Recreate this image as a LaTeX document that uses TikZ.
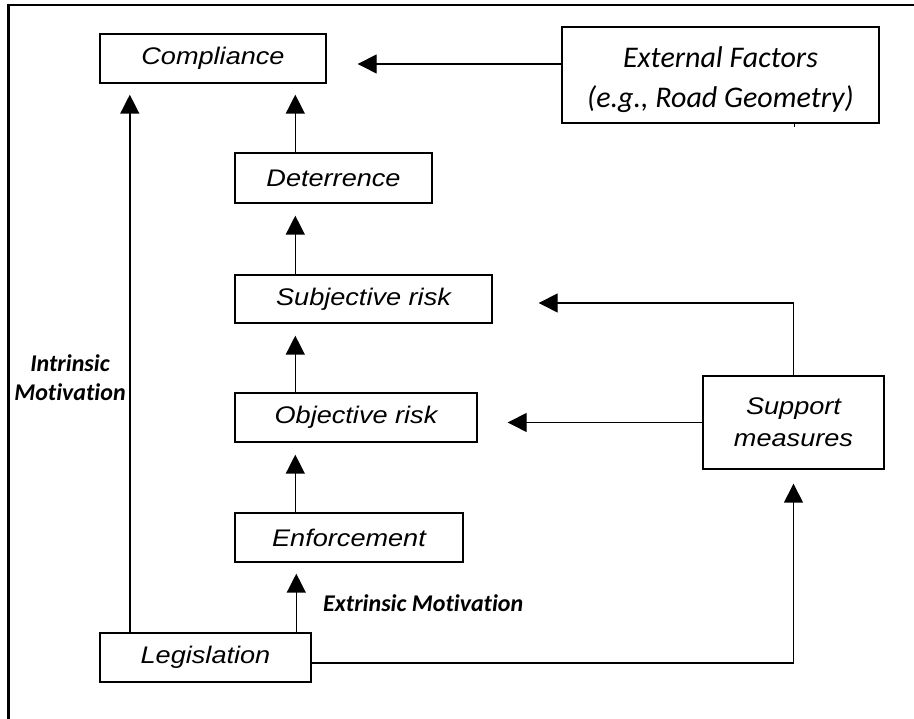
\documentclass[tikz,border=0pt]{standalone}
\usepackage{fontspec}
\usetikzlibrary{arrows.meta}
\newfontfamily\arialf{Liberation Sans}[FakeStretch=1.13]
\newfontfamily\calf{Carlito}[Ligatures=NoCommon]
\tikzset{
  box/.style={draw, line width=1.4pt, inner sep=0pt, align=center,
    font=\arialf\itshape\fontsize{24}{32}\selectfont},
  arr/.style={line width=1.4pt, -{Triangle[length=19pt,width=19pt]}},
  lbl/.style={align=center, inner sep=0pt, font=\calf\bfseries\itshape\fontsize{24}{29}\selectfont},
  frameline/.style={line width=2.5pt}
}
\begin{document}
\begin{tikzpicture}[x=1pt,y=1pt]
\useasboundingbox (0,0) rectangle (914,719);
\draw[frameline] (914,714) -- (8.5,714) -- (8.5,0);

\node[box, minimum width=226pt, minimum height=49pt] (comp) at (213,660.5) {Compliance};
\node[box, minimum width=317pt, minimum height=96pt] (ext) at (720.5,644) {};
\node[align=center, inner sep=0pt, font=\calf\itshape\fontsize{30}{40}\selectfont]
  (exttext) at ([yshift=-5pt]ext.center) {External Factors\\(e.g., Road Geometry)};
\node[box, minimum width=197pt, minimum height=50pt] (det) at (333.5,541) {Deterrence};
\node[box, minimum width=257pt, minimum height=48pt] (subj) at (363.5,420) {Subjective risk};
\node[box, minimum width=242pt, minimum height=49pt] (obj) at (356,301.5) {Objective risk};
\node[box, minimum width=228pt, minimum height=49pt] (enf) at (349,181.5) {Enforcement};
\node[box, minimum width=211pt, minimum height=49pt] (leg) at (205.5,61.5) {Legislation};
\node[box, minimum width=181pt, minimum height=93pt] (sup) at (793.5,296.5) {Support\\measures};

\node[lbl] (intr) at (70,341.5) {Intrinsic\\Motivation};
\node[lbl, anchor=west] (extr) at (323,116) {Extrinsic Motivation};

% vertical chain
\draw[arr, shorten >=11pt] ([xshift=61pt]det.north west) -- ([xshift=61pt]det.north west |- comp.south);
\draw[arr, shorten >=12pt] ([xshift=61pt]subj.north west) -- ([xshift=61pt]subj.north west |- det.south);
\draw[arr, shorten >=12pt] ([xshift=61pt]obj.north west) -- ([xshift=61pt]obj.north west |- subj.south);
\draw[arr, shorten >=12pt] ([xshift=61pt]enf.north west) -- ([xshift=61pt]enf.north west |- obj.south);
\draw[arr, shorten >=11pt] ([xshift=62pt]enf.south west |- leg.north) -- ([xshift=62pt]enf.south west);
\draw[arr, shorten >=11pt] ([xshift=30.5pt]leg.north west) -- ([xshift=30.5pt]leg.north west |- comp.south);

% horizontals
\draw[arr, shorten >=31pt] ([yshift=11pt]ext.west) -- ([yshift=11pt]ext.west -| comp.east);
\draw[arr, shorten >=30pt] (sup.west) -- (sup.west -| obj.east);
\draw[arr, shorten >=46pt] (sup.north) |- ([yshift=-4pt]subj.east);
\draw[arr, shorten >=14pt] ([yshift=-5.5pt]leg.east) -| (sup.south);

% small stub under external box
\draw[line width=1pt] ([xshift=73.5pt]ext.south) -- ++(0,-3);
\end{tikzpicture}
\end{document}
